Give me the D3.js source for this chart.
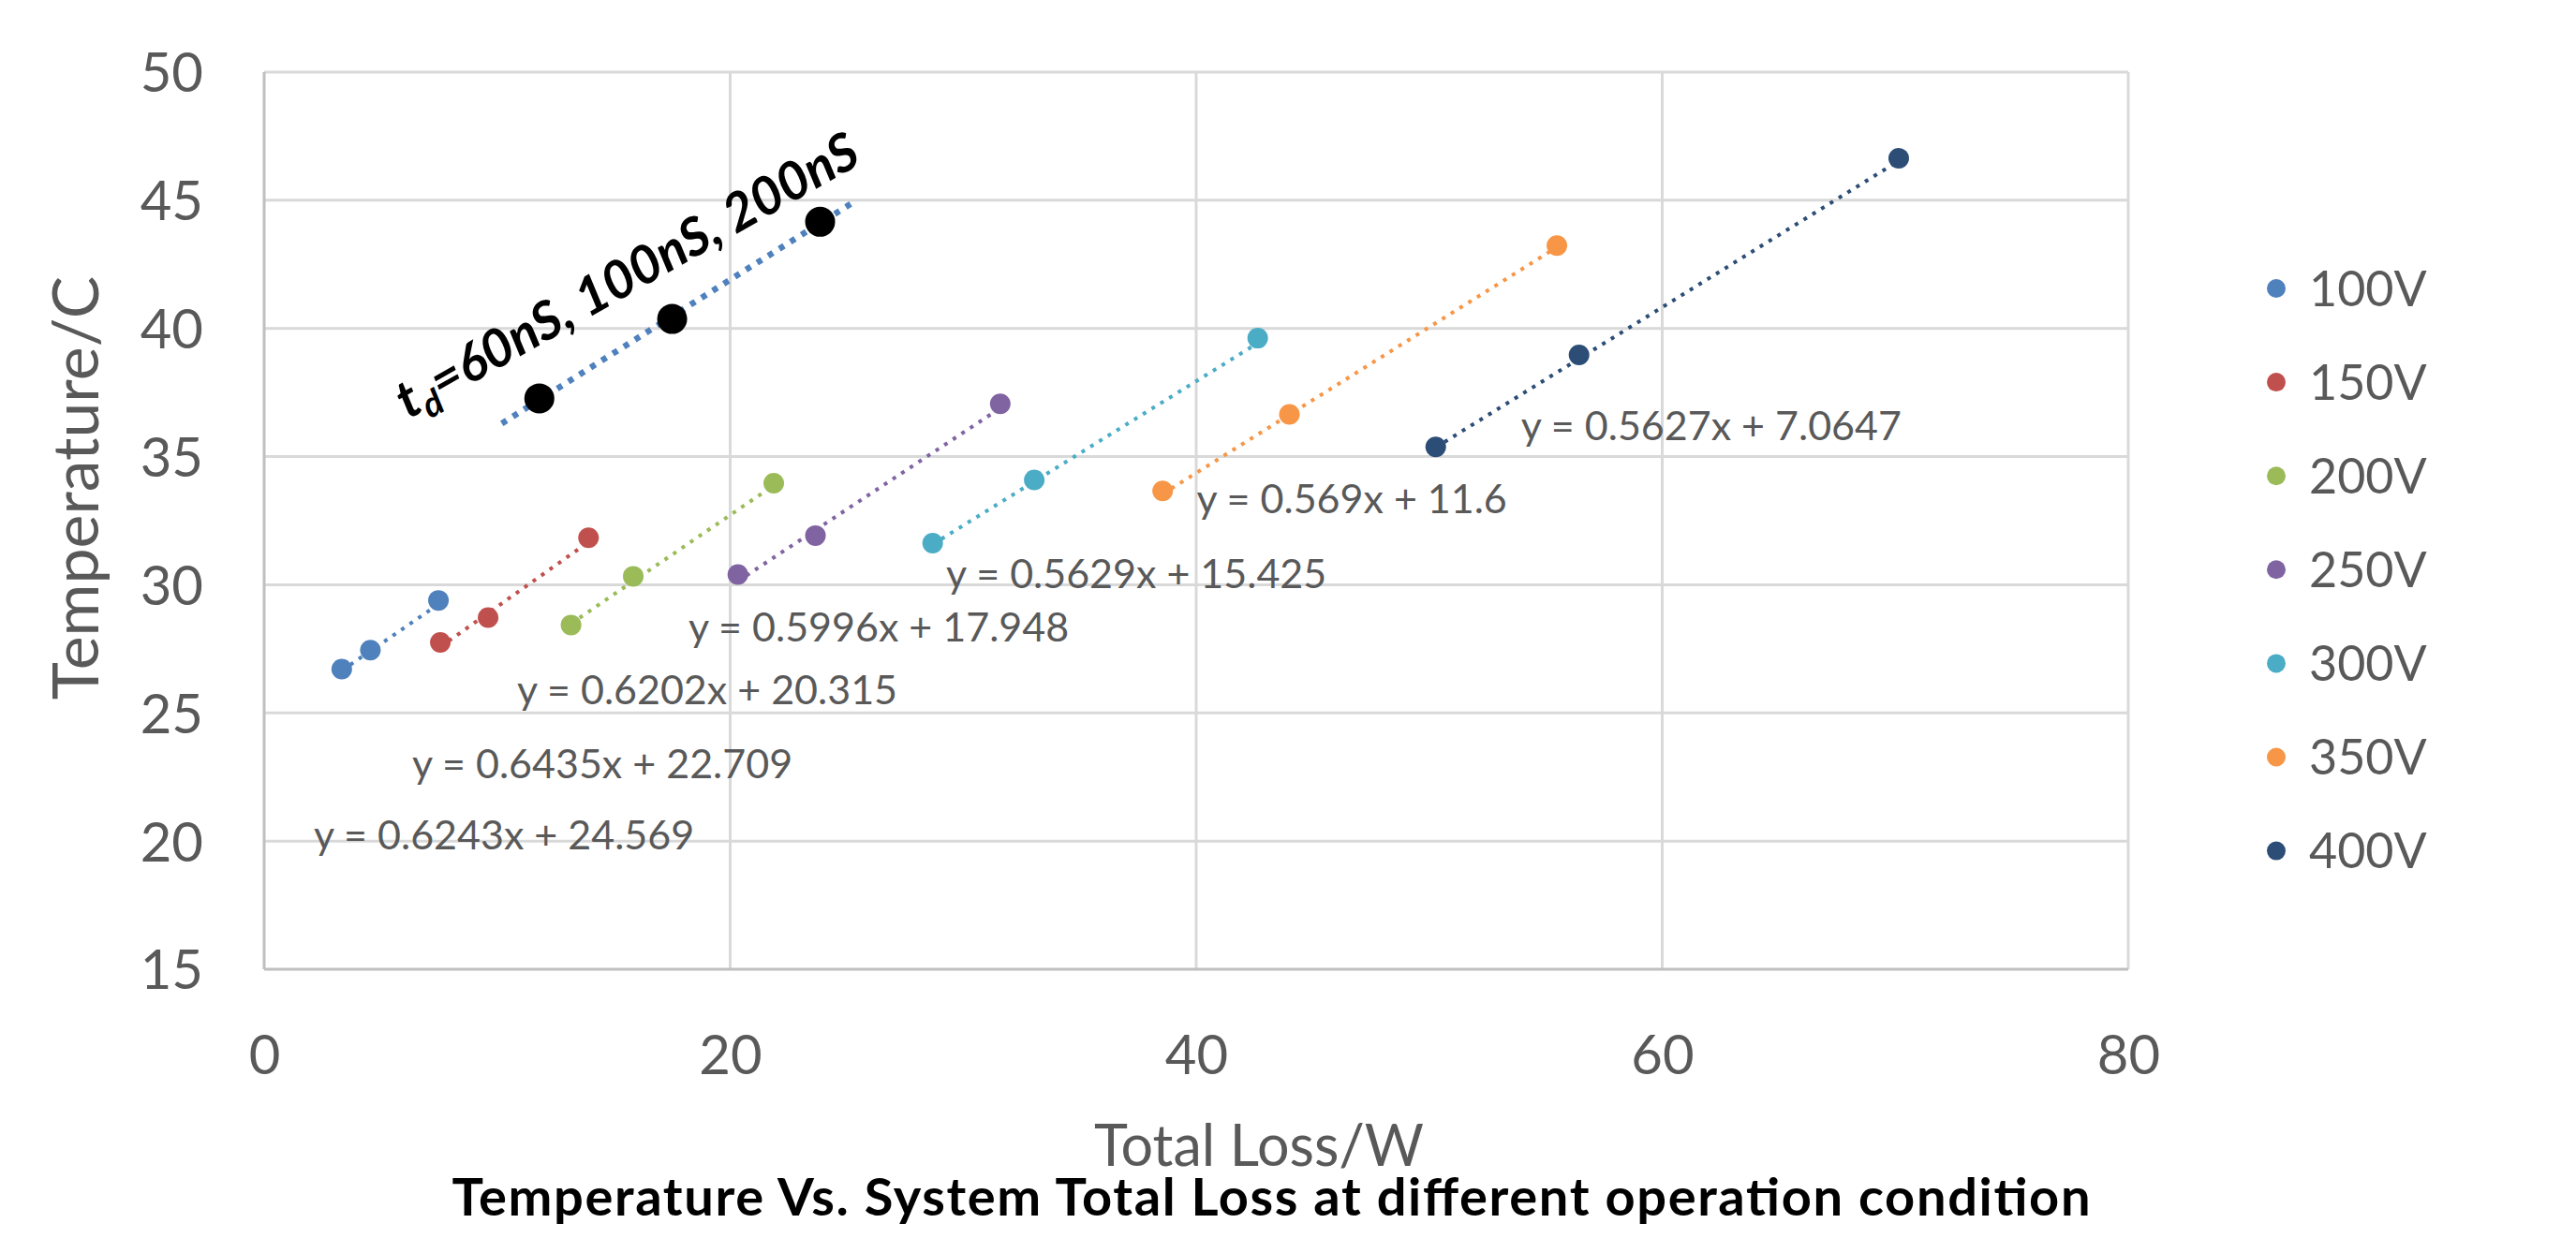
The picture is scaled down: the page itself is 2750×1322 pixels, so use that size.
<!DOCTYPE html>
<html>
<head>
<meta charset="utf-8">
<script src="https://cdn.jsdelivr.net/npm/d3@7"></script>
<style>
  body { margin: 0; background: #fff; }
  text { font-family: Lato, 'Open Sans', sans-serif; }
</style>
</head>
<body>
<div class="canvas"></div>
<script>
// data: x = Total Loss (W), y = Temperature (C)
const seriesNames = ['100V', '150V', '200V', '250V', '300V', '350V', '400V'];
const seriesColors = ['#4F81BD', '#C0504D', '#9BBB59', '#8064A2', '#4BACC6', '#F79646', '#2C4D75'];

const loss100 = [3.33, 4.56, 7.48];
const temp100 = [26.71, 27.45, 29.39];
const loss150 = [7.56, 9.61, 13.92];
const temp150 = [27.75, 28.72, 31.83];
const loss200 = [13.17, 15.84, 21.87];
const temp200 = [28.43, 30.33, 33.96];
const loss250 = [20.33, 23.66, 31.59];
const temp250 = [30.4, 31.92, 37.06];
const loss300 = [28.69, 33.05, 42.64];
const temp300 = [31.62, 34.09, 39.62];
const loss350 = [38.56, 44.0, 55.48];
const temp350 = [33.66, 36.65, 43.23];
const loss400 = [50.28, 56.43, 70.15];
const temp400 = [35.38, 38.97, 46.64];

// linear trendline equations shown on the chart
const slopes = [0.6243, 0.6435, 0.6202, 0.5996, 0.5629, 0.569, 0.5627];
const intercepts = [24.569, 22.709, 20.315, 17.948, 15.425, 11.6, 7.0647];

// dead time points (black) and their trendline extent
const tdLoss = [11.81, 17.51, 23.86];
const tdTemp = [37.27, 40.37, 44.16];
const tdTrendRange = [10.2, 25.3];

const xTicks = [0, 20, 40, 60, 80];
const yTicks = [15, 20, 25, 30, 35, 40, 45, 50];

const seriesLoss = [loss100, loss150, loss200, loss250, loss300, loss350, loss400];
const seriesTemp = [temp100, temp150, temp200, temp250, temp300, temp350, temp400];

// where each equation label sits (left / baseline, in data units)
const labelAt = [[2.13, 19.68], [6.35, 22.46], [10.85, 25.35], [18.21, 27.8],
                 [29.27, 29.88], [40.02, 32.81], [53.94, 35.66]];

const svg = d3.select('.canvas').append('svg')
    .attr('width', 2750)
    .attr('height', 1322);

const margin = { left: 282, top: 77, right: 478, bottom: 287 };
const graphWidth = 2750 - margin.left - margin.right;
const graphHeight = 1322 - margin.top - margin.bottom;

const graph = svg.append('g')
    .attr('transform', `translate(${margin.left},${margin.top})`);

// scales
const x = d3.scaleLinear().domain([0, 80]).range([0, graphWidth]);
const y = d3.scaleLinear().domain([15, 50]).range([graphHeight, 0]);

// gridlines
graph.append('g').selectAll('line')
    .data(yTicks.slice(1))
    .enter().append('line')
    .attr('x1', 0).attr('x2', graphWidth)
    .attr('y1', d => y(d)).attr('y2', d => y(d))
    .attr('stroke', '#D9D9D9').attr('stroke-width', 3);

graph.append('g').selectAll('line')
    .data(xTicks.slice(1))
    .enter().append('line')
    .attr('x1', d => x(d)).attr('x2', d => x(d))
    .attr('y1', 0).attr('y2', graphHeight)
    .attr('stroke', '#D9D9D9').attr('stroke-width', 3);

// axis lines
graph.append('line')
    .attr('x1', 0).attr('x2', 0).attr('y1', 0).attr('y2', graphHeight)
    .attr('stroke', '#BFBFBF').attr('stroke-width', 3);
graph.append('line')
    .attr('x1', 0).attr('x2', graphWidth).attr('y1', graphHeight).attr('y2', graphHeight)
    .attr('stroke', '#BFBFBF').attr('stroke-width', 3);

// axes (labels only)
const xAxis = d3.axisBottom(x).tickValues(xTicks).tickSize(0);
const yAxis = d3.axisLeft(y).tickValues(yTicks).tickSize(0);

const xAxisGroup = graph.append('g')
    .attr('transform', `translate(0,${graphHeight})`)
    .call(xAxis);
const yAxisGroup = graph.append('g').call(yAxis);

xAxisGroup.select('.domain').remove();
yAxisGroup.select('.domain').remove();

xAxisGroup.selectAll('text')
    .attr('y', 112).attr('dy', null)
    .attr('font-size', 58).attr('fill', '#595959');
yAxisGroup.selectAll('text')
    .attr('x', -65).attr('dy', '0.36em')
    .attr('font-size', 58).attr('fill', '#595959');

// trendlines, dotted
seriesNames.forEach((name, i) => {
    const lo = d3.min(seriesLoss[i]);
    const hi = d3.max(seriesLoss[i]);
    graph.append('line')
        .attr('x1', x(lo)).attr('y1', y(slopes[i] * lo + intercepts[i]))
        .attr('x2', x(hi)).attr('y2', y(slopes[i] * hi + intercepts[i]))
        .attr('stroke', seriesColors[i])
        .attr('stroke-width', 4)
        .attr('stroke-dasharray', '4,7');
});

// least squares fit for the td points
const mx = d3.mean(tdLoss), my = d3.mean(tdTemp);
const tdSlope = d3.sum(tdLoss, (v, i) => (v - mx) * (tdTemp[i] - my)) /
    d3.sum(tdLoss, v => (v - mx) * (v - mx));
const tdIntercept = my - tdSlope * mx;

graph.append('line')
    .attr('x1', x(tdTrendRange[0])).attr('y1', y(tdSlope * tdTrendRange[0] + tdIntercept))
    .attr('x2', x(tdTrendRange[1])).attr('y2', y(tdSlope * tdTrendRange[1] + tdIntercept))
    .attr('stroke', '#4F81BD')
    .attr('stroke-width', 6.5)
    .attr('stroke-dasharray', '6,8');

// markers
seriesNames.forEach((name, i) => {
    graph.append('g').selectAll('circle')
        .data(seriesLoss[i].map((v, j) => ({ loss: v, temp: seriesTemp[i][j] })))
        .enter().append('circle')
        .attr('cx', d => x(d.loss))
        .attr('cy', d => y(d.temp))
        .attr('r', 11)
        .attr('fill', seriesColors[i]);
});

graph.append('g').selectAll('circle')
    .data(tdLoss.map((v, j) => ({ loss: v, temp: tdTemp[j] })))
    .enter().append('circle')
    .attr('cx', d => x(d.loss))
    .attr('cy', d => y(d.temp))
    .attr('r', 16)
    .attr('fill', '#000');

// equation labels
graph.append('g').selectAll('text')
    .data(seriesNames)
    .enter().append('text')
    .attr('x', (d, i) => x(labelAt[i][0]))
    .attr('y', (d, i) => y(labelAt[i][1]))
    .attr('font-size', 43)
    .attr('fill', '#595959')
    .text((d, i) => `y = ${slopes[i]}x + ${intercepts[i]}`);

// td annotation
const td = svg.append('text')
    .attr('transform', 'translate(436,448) rotate(-29.5)')
    .attr('font-size', 56)
    .attr('font-weight', 'bold')
    .attr('font-style', 'italic')
    .attr('fill', '#000');
td.append('tspan').text('t');
td.append('tspan').attr('font-size', 38).attr('dy', 11).text('d');
td.append('tspan').attr('dy', -11).text('=60nS, 100nS, 200nS');

// legend
const legend = svg.append('g')
    .attr('transform', 'translate(2430,308)');
const legendItems = legend.selectAll('g')
    .data(seriesNames)
    .enter().append('g')
    .attr('transform', (d, i) => `translate(0,${i * 100.1})`);
legendItems.append('circle')
    .attr('r', 10)
    .attr('fill', (d, i) => seriesColors[i]);
legendItems.append('text')
    .attr('x', 35).attr('dy', '0.36em')
    .attr('font-size', 52)
    .attr('fill', '#595959')
    .text(d => d);

// axis titles
svg.append('text')
    .attr('transform', 'translate(105,521) rotate(-90)')
    .attr('text-anchor', 'middle')
    .attr('font-size', 68)
    .attr('fill', '#595959')
    .text('Temperature/C');

svg.append('text')
    .attr('x', 1344).attr('y', 1245)
    .attr('text-anchor', 'middle')
    .attr('font-size', 61)
    .attr('fill', '#595959')
    .text('Total Loss/W');

// chart caption
svg.append('text')
    .attr('x', 1357).attr('y', 1298)
    .attr('text-anchor', 'middle')
    .attr('font-size', 56)
    .attr('font-weight', 'bold')
    .attr('textLength', 1749)
    .attr('lengthAdjust', 'spacing')
    .attr('fill', '#000')
    .text('Temperature Vs. System Total Loss at different operation condition');
</script>
</body>
</html>
